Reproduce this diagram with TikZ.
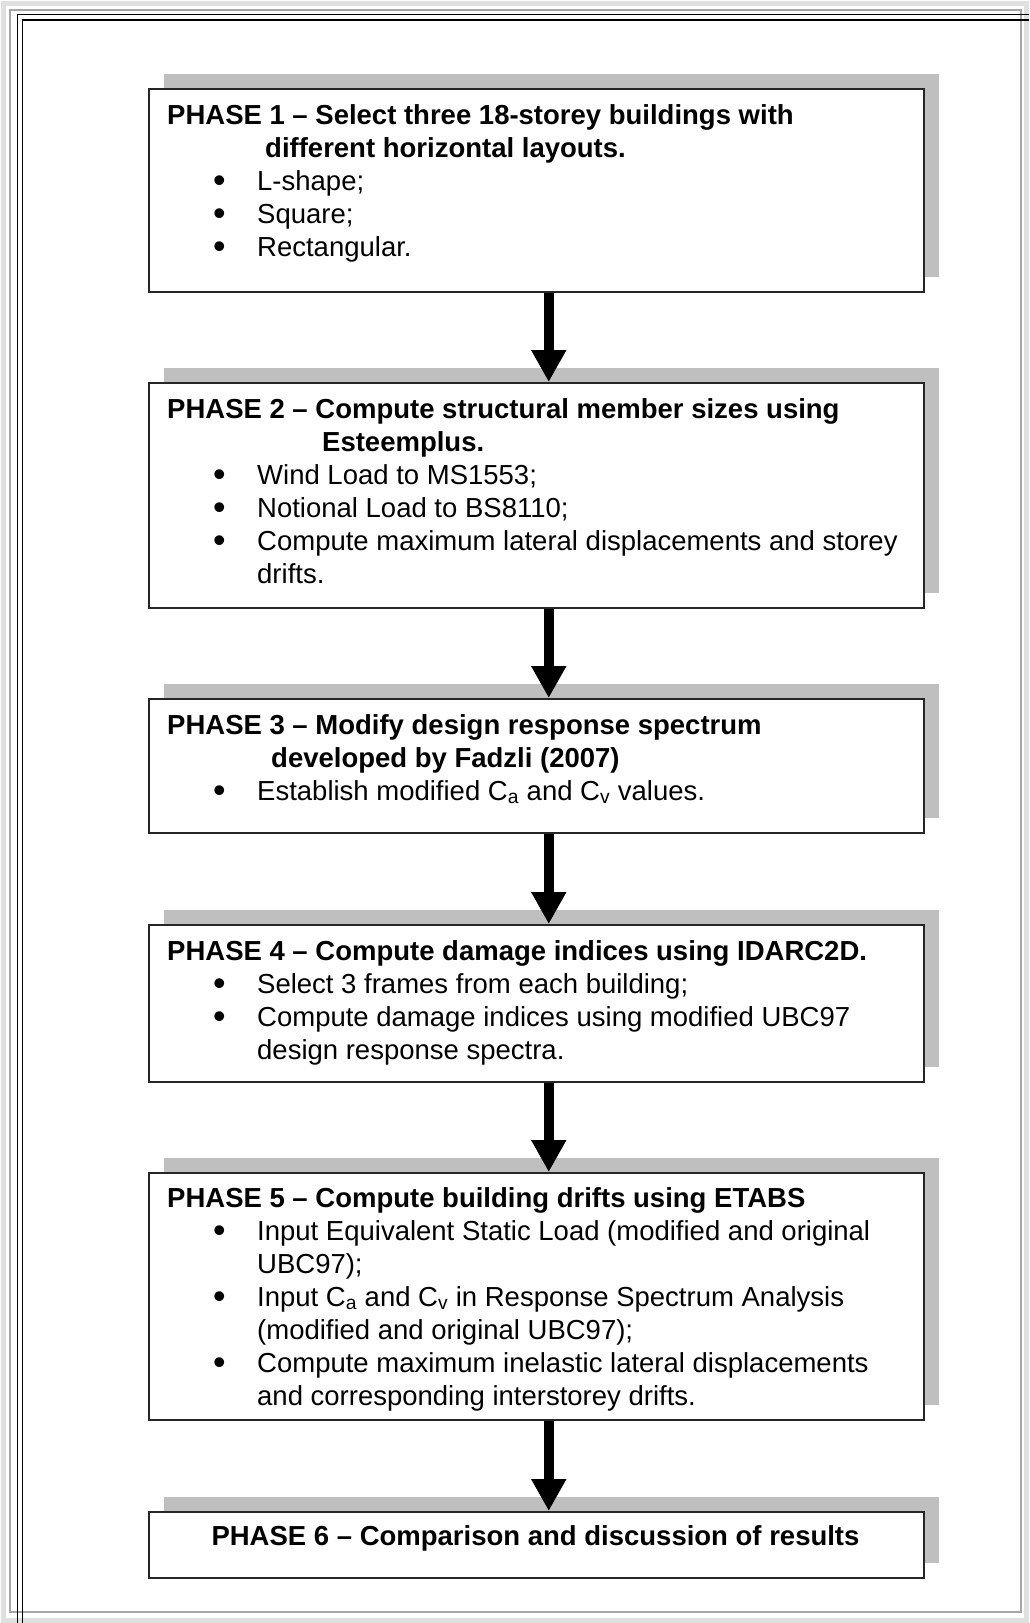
\documentclass[tikz,border=0pt]{standalone}
\usepackage{fontspec}
\setmainfont{Liberation Sans}
\usetikzlibrary{arrows.meta,shadows}

\newcommand{\bul}{\hspace*{46pt}\makebox[44pt][l]{\raisebox{-2pt}{\scalebox{1.3}{•}}}}
\newcommand{\cont}{\hspace*{90pt}}

\begin{document}
\begin{tikzpicture}[
    x=1pt, y=-1pt,
    phase/.style={rectangle, draw=black!85, line width=1.5pt, fill=white, inner sep=0pt,
        anchor=north west, minimum width=775pt,
        drop shadow={shadow xshift=15pt, shadow yshift=15pt, fill=black!25, opacity=1}},
    txt/.style={anchor=base west, inner sep=0pt, align=left, font=\fontsize{27.5}{33}\selectfont},
    flow/.style={-{Triangle[width=33pt,length=32pt]}, line width=10pt}
]
    \useasboundingbox (0,0) rectangle (1029,1623);
    \fill[white] (0,0) rectangle (1029,1623);

    \draw[black!12, line width=5pt] (3,3) rectangle (1026,1620);
    \draw[black!35, line width=2pt] (10,10) rectangle (1021,1612);
    \draw[line width=1.5pt] (17.5,1623) -- (17.5,14.5) -- (1029,14.5);
    \draw[line width=1.5pt] (22.5,1623) -- (22.5,20) -- (1029,20);

    \node[phase, minimum height=203pt] (p1) at (148,88) {};
    \node[phase, minimum height=225pt] (p2) at (148,382) {};
    \node[phase, minimum height=134pt] (p3) at (148,698) {};
    \node[phase, minimum height=157pt] (p4) at (148,924) {};
    \node[phase, minimum height=247pt] (p5) at (148,1172) {};
    \node[phase, minimum height=66pt] (p6) at (148,1511) {};

    \node[txt] (t1) at (167,256) {%
        \textbf{PHASE 1 – Select three 18-storey buildings with}\\
        \hspace*{98pt}\textbf{different horizontal layouts.}\\
        \bul L-shape;\\
        \bul Square;\\
        \bul Rectangular.};
    \node[txt] (t2) at (167,583) {%
        \textbf{PHASE 2 – Compute structural member sizes using}\\
        \hspace*{155pt}\textbf{Esteemplus.}\\
        \bul Wind Load to MS1553;\\
        \bul Notional Load to BS8110;\\
        \bul Compute maximum lateral displacements and storey\\
        \cont drifts.};
    \node[txt] (t3) at (167,800) {%
        \textbf{PHASE 3 – Modify design response spectrum}\\
        \hspace*{104pt}\textbf{developed by Fadzli (2007)}\\
        \bul Establish modified C\textsubscript{a} and C\textsubscript{v} values.};
    \node[txt] (t4) at (167,1059) {%
        \textbf{PHASE 4 – Compute damage indices using IDARC2D.}\\
        \bul Select 3 frames from each building;\\
        \bul Compute damage indices using modified UBC97\\
        \cont design response spectra.};
    \node[txt] (t5) at (167,1405) {%
        \textbf{PHASE 5 – Compute building drifts using ETABS}\\
        \bul Input Equivalent Static Load (modified and original\\
        \cont UBC97);\\
        \bul Input C\textsubscript{a} and C\textsubscript{v} in Response Spectrum Analysis\\
        \cont (modified and original UBC97);\\
        \bul Compute maximum inelastic lateral displacements\\
        \cont and corresponding interstorey drifts.};
    \node[txt, anchor=base] (t6) at (535.5,1545) {\textbf{PHASE 6 – Comparison and discussion of results}};

    \draw[flow] ([xshift=12.5pt]p1.south) -- ([xshift=12.5pt]p2.north);
    \draw[flow] ([xshift=12.5pt]p2.south) -- ([xshift=12.5pt]p3.north);
    \draw[flow] ([xshift=12.5pt]p3.south) -- ([xshift=12.5pt]p4.north);
    \draw[flow] ([xshift=12.5pt]p4.south) -- ([xshift=12.5pt]p5.north);
    \draw[flow] ([xshift=12.5pt]p5.south) -- ([xshift=12.5pt]p6.north);
\end{tikzpicture}
\end{document}
